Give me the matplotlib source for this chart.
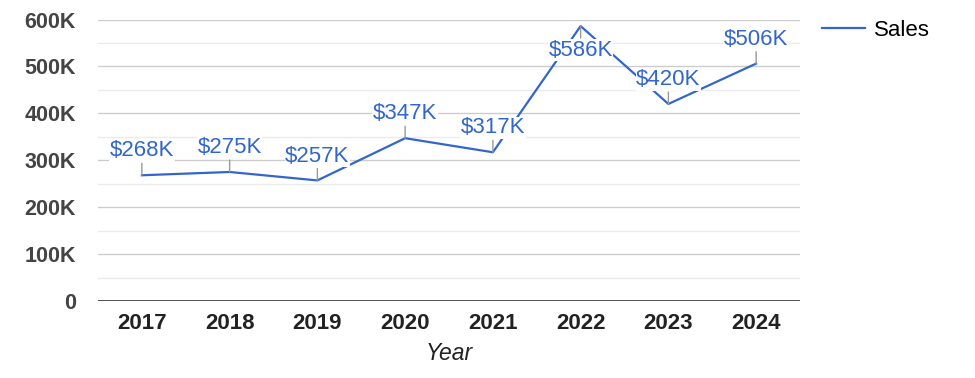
import matplotlib.pyplot as plt
from matplotlib.lines import Line2D
import numpy as np

plt.rcParams['font.family'] = ['Liberation Sans', 'DejaVu Sans']

years = ['2017', '2018', '2019', '2020', '2021', '2022', '2023', '2024']
sales = [268, 275, 257, 347, 317, 586, 420, 506]  # thousands of dollars
y_ticks = [0, 100, 200, 300, 400, 500, 600]
y_tick_labels = ['0', '100K', '200K', '300K', '400K', '500K', '600K']

blue = '#3366cc'

fig = plt.figure(figsize=(9.75, 3.78), dpi=100)
ax = fig.add_axes([98 / 975, 1 - 301 / 378, 702 / 975, 281.5 / 378])

x = np.arange(len(years))
ax.set_xlim(-0.5, len(years) - 0.5)
ax.set_ylim(0, 600)

# gridlines
for v in np.arange(50, 600, 100):
    ax.axhline(v, color='#ebebeb', lw=1, zorder=0)
for v in y_ticks[1:]:
    ax.axhline(v, color='#cccccc', lw=1, zorder=0)
ax.axhline(0, color='#333333', lw=1.2, zorder=1)

ax.plot(x, sales, color=blue, lw=1.6, zorder=2)

# annotations with short leader lines
for xi, v in zip(x, sales):
    sign = -1 if v > 560 else 1
    ax.annotate('', xy=(xi, v), xytext=(0, sign * 8.6), textcoords='offset points',
                arrowprops=dict(arrowstyle='-', color='#999999', lw=1, shrinkA=0, shrinkB=0),
                zorder=3)
    ax.annotate('$%dK' % v, xy=(xi, v), xytext=(0, sign * 17.5), textcoords='offset points',
                ha='center', va='center', fontsize=16, color=blue,
                bbox=dict(boxstyle='square,pad=0.02', fc='white', ec='none'), zorder=4)

ax.set_xticks(x)
ax.set_xticklabels(years, fontsize=16, fontweight='bold', color='#222222')
ax.set_yticks(y_ticks)
ax.set_yticklabels(y_tick_labels, fontsize=15.5, fontweight='bold', color='#444444')
ax.tick_params(length=0)
ax.tick_params(axis='x', pad=8.5)
ax.tick_params(axis='y', pad=16)
for s in ax.spines.values():
    s.set_visible(False)

ax.set_xlabel('Year', fontsize=16.5, style='italic', color='#222222', labelpad=6)

handle = Line2D([], [], color=blue, lw=1.6)
fig.legend([handle], ['Sales'], loc='center left', bbox_to_anchor=(802 / 975, 1 - 30 / 378),
           frameon=False, fontsize=16, handlelength=1.95, handletextpad=0.4)

fig.savefig('out.png', dpi=100)
